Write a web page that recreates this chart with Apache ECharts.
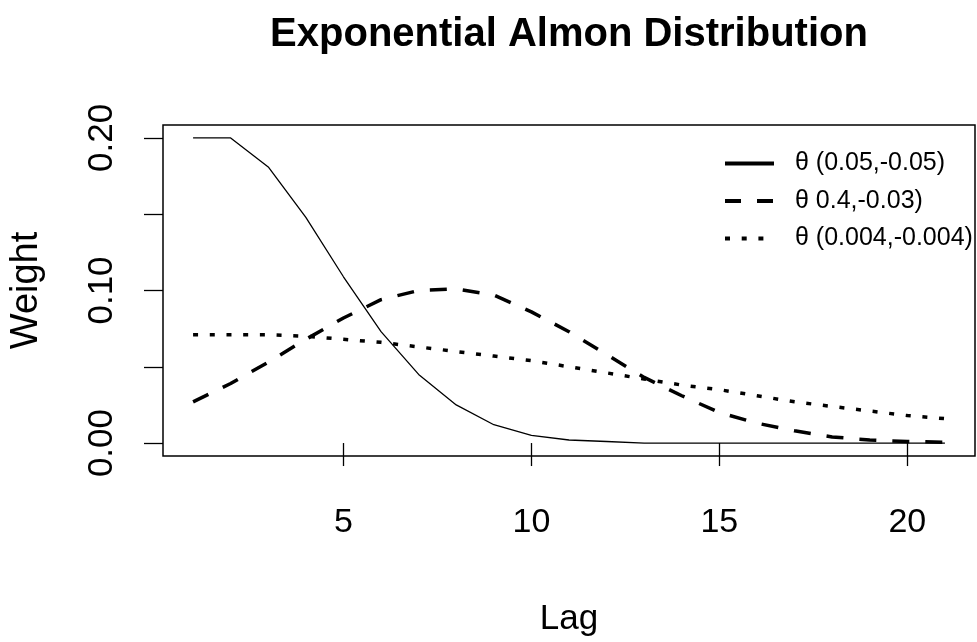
<!DOCTYPE html>
<html>
<head>
<meta charset="utf-8">
<script src="https://cdn.jsdelivr.net/npm/echarts@6/dist/echarts.min.js"></script>
<style>
html,body{margin:0;padding:0;background:#fff;}
#c{width:977px;height:642px;}
</style>
</head>
<body>
<div id="c"></div>
<script>
// Data
var lags = [1,2,3,4,5,6,7,8,9,10,11,12,13,14,15,16,17,18,19,20,21];
var seriesNames = ['θ (0.05,-0.05)', 'θ 0.4,-0.03)', 'θ (0.004,-0.004)'];
var wSolid  = [0.200,0.200,0.181,0.148,0.109,0.073,0.045,0.025,0.012,0.005,0.002,0.001,0.000,0.000,0.000,0.000,0.000,0.000,0.000,0.000,0.000];
var wDashed = [0.027,0.039,0.053,0.068,0.082,0.094,0.100,0.101,0.097,0.086,0.073,0.058,0.043,0.031,0.020,0.013,0.008,0.004,0.002,0.001,0.0005];
var wDotted = [0.071,0.071,0.071,0.070,0.068,0.066,0.063,0.060,0.057,0.054,0.050,0.046,0.042,0.038,0.035,0.031,0.027,0.024,0.021,0.018,0.016];
var xTicks = [5,10,15,20];
var yTicks = [0,0.05,0.10,0.15,0.20];
var yTickLabels = [0,0.10,0.20];

function pairs(vals){ return lags.map(function(l,i){ return [l, vals[i]]; }); }

var chart = echarts.init(document.getElementById('c'), null, {renderer:'canvas'});
var SANS = 'Liberation Sans, Arial, sans-serif';
chart.setOption({
  animation:false,
  backgroundColor:'#fff',
  color:['#000','#000','#000'],
  title:{
    text:'Exponential Almon Distribution',
    left:569, textAlign:'center', top:15, padding:0,
    textStyle:{fontFamily:SANS, fontWeight:'bold', fontSize:40, color:'#000'}
  },
  legend:{
    orient:'vertical', left:723, top:151, padding:0,
    itemWidth:49, itemHeight:14, itemGap:12.5,
    itemStyle:{opacity:0},
    formatter:function(n){ return '{g|}{t|' + n + '}'; },
    textStyle:{
      fontFamily:SANS, fontSize:25, color:'#000',
      rich:{ g:{width:16}, t:{fontFamily:SANS, fontSize:25, color:'#000', lineHeight:24} }
    },
    data:[
      {name:seriesNames[0], itemStyle:{opacity:0}, lineStyle:{width:4, type:'solid', color:'#000'}},
      {name:seriesNames[1], itemStyle:{opacity:0}, lineStyle:{width:4, type:[16,16], color:'#000'}},
      {name:seriesNames[2], itemStyle:{opacity:0}, lineStyle:{width:4, type:[5,11.7], color:'#000'}}
    ]
  },
  grid:{left:162, right:2, top:125, bottom:184, show:true, borderColor:'#000', borderWidth:1.5, containLabel:false},
  xAxis:{
    type:'value', min:0.2, max:21.8,
    name:'Lag', nameLocation:'middle', nameGap:146,
    nameTextStyle:{fontFamily:SANS, fontSize:35, color:'#000'},
    axisLine:{show:false},
    axisTick:{show:true, inside:false, length:23, customValues:xTicks, lineStyle:{color:'#000', width:1.3}},
    axisLabel:{customValues:xTicks, margin:50, fontFamily:SANS, fontSize:34, color:'#000'},
    splitLine:{show:false}
  },
  yAxis:{
    type:'value', min:-0.0085, max:0.2085,
    name:'Weight', nameLocation:'middle', nameGap:117, nameRotate:90,
    nameTextStyle:{fontFamily:SANS, fontSize:38, color:'#000'},
    axisLine:{show:false},
    axisTick:{show:true, inside:false, length:19, customValues:yTicks, lineStyle:{color:'#000', width:1.3}},
    axisLabel:{customValues:yTickLabels, rotate:90, margin:43, fontFamily:SANS, fontSize:35, color:'#000',
      formatter:function(v){ return (+v).toFixed(2); }},
    splitLine:{show:false}
  },
  series:[
    {name:seriesNames[0], type:'line', data:pairs(wSolid), symbol:'none', silent:true,
     itemStyle:{color:'#000'}, lineStyle:{color:'#000', width:1.3, type:'solid'}},
    {name:seriesNames[1], type:'line', data:pairs(wDashed), symbol:'none', silent:true,
     itemStyle:{color:'#000'}, lineStyle:{color:'#000', width:3.5, type:[17,16]}},
    {name:seriesNames[2], type:'line', data:pairs(wDotted), symbol:'none', silent:true,
     itemStyle:{color:'#000'}, lineStyle:{color:'#000', width:3.5, type:[5,11.7]}}
  ]
});
</script>
</body>
</html>
